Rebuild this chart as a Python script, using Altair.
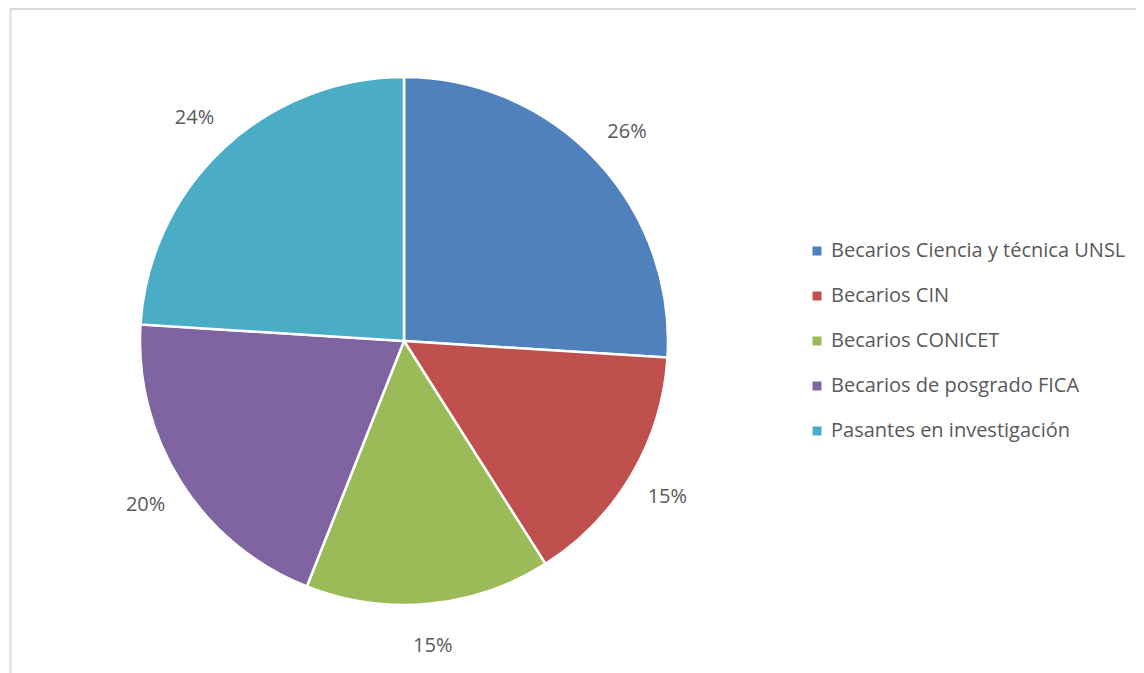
import altair as alt
import pandas as pd

categories = [
    "Becarios Ciencia y técnica UNSL",
    "Becarios CIN",
    "Becarios CONICET",
    "Becarios de posgrado FICA",
    "Pasantes en investigación",
]
values = [26, 15, 15, 20, 24]
labels = ["26%", "15%", "15%", "20%", "24%"]
colors = ["#4F81BD", "#C0504D", "#9BBB59", "#8064A2", "#4BACC6"]

df = pd.DataFrame({
    "cat": categories,
    "value": values,
    "label": labels,
    "idx": list(range(len(categories))),
})

W, H = 1128, 665
CX, CY, R = 396, 333, 264
FONT = "Open Sans"
FRAME = "#D9D9D9"

base = alt.Chart(df).encode(
    theta=alt.Theta("value:Q", stack=True),
    order=alt.Order("idx:Q"),
)

pie = base.mark_arc(radius=R, stroke="white", strokeWidth=2.5).encode(
    x=alt.value(CX),
    y=alt.value(CY),
    color=alt.Color(
        "cat:N",
        scale=alt.Scale(domain=categories, range=colors),
        sort=categories,
        legend=alt.Legend(
            title=None,
            orient="none",
            legendX=799,
            legendY=233,
            padding=0,
            symbolType="square",
            symbolSize=81,
            symbolStrokeWidth=0,
            labelFontSize=20,
            labelFont=FONT,
            labelColor="#595959",
            rowPadding=25,
            labelOffset=4,
            labelLimit=400,
        ),
    ),
)

text = base.mark_text(radius=306, fontSize=20, font=FONT, color="#595959").encode(
    x=alt.value(CX),
    y=alt.value(CY),
    text="label:N",
)

one = alt.Chart(pd.DataFrame({"k": [0]}))
left_line = one.mark_rule(color=FRAME, strokeWidth=1.8).encode(
    x=alt.value(2.5), y=alt.value(0), y2=alt.value(H)
)
top_line = one.mark_rule(color=FRAME, strokeWidth=1.8).encode(
    x=alt.value(2.5), x2=alt.value(W), y=alt.value(1)
)

chart = (
    alt.layer(pie, text, left_line, top_line)
    .properties(
        width=W,
        height=H,
        autosize=alt.AutoSizeParams(type="none"),
        padding=0,
    )
    .configure_view(stroke=None)
)

chart.save("out.html", embed_options={"renderer": "svg", "actions": False})
